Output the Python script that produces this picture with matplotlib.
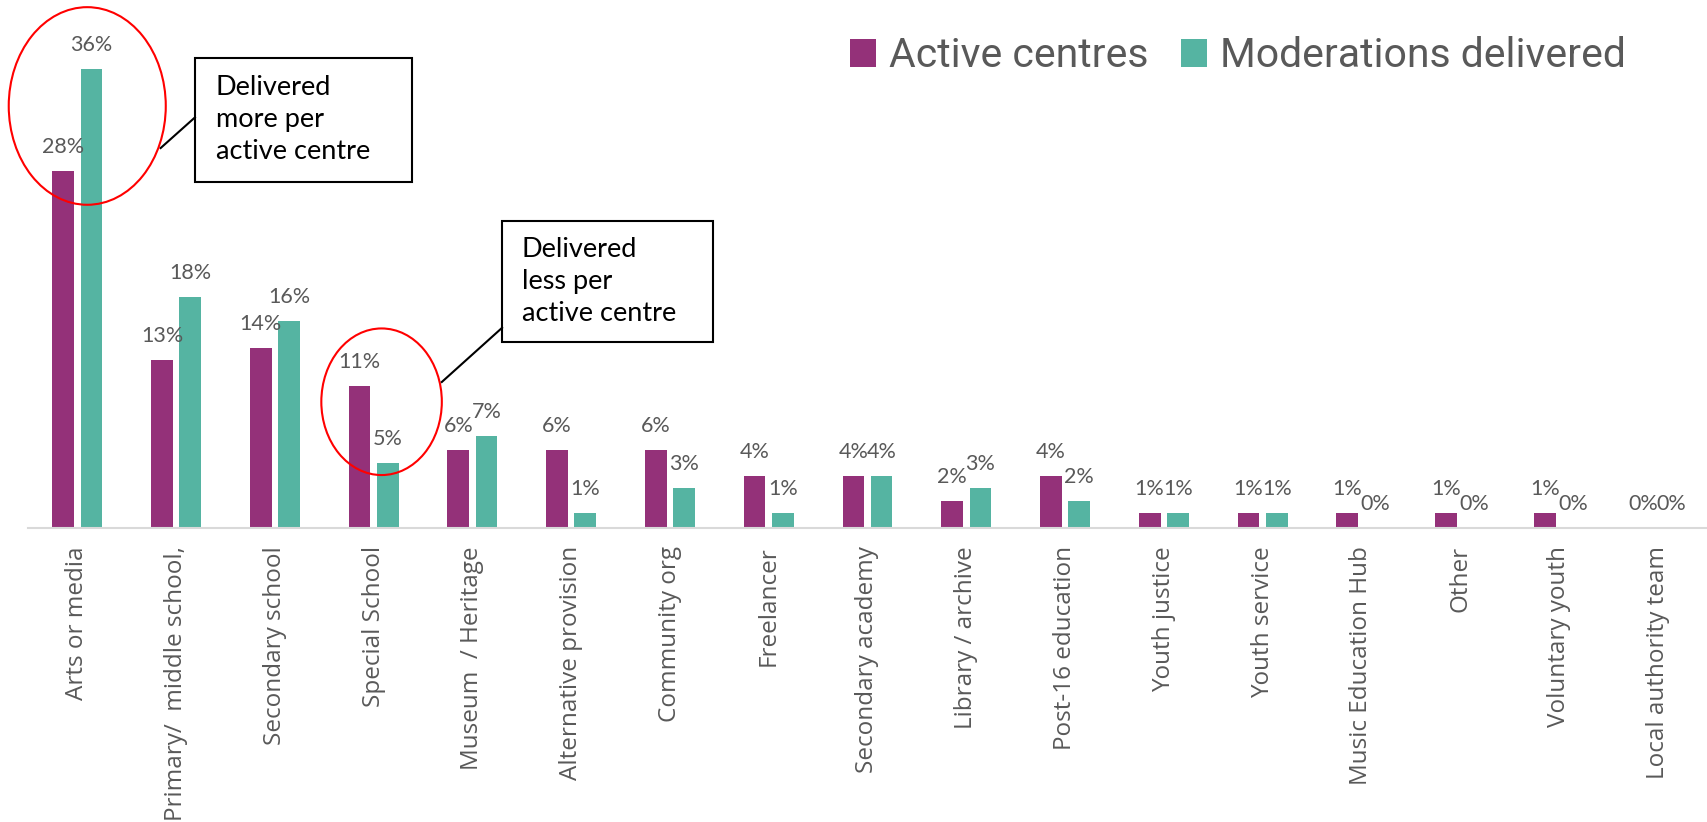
import numpy as np
import matplotlib
matplotlib.use("Agg")
import matplotlib.pyplot as plt
from matplotlib.patches import Ellipse, Rectangle

# Data
categories = [
    "Arts or media", "Primary/  middle school,", "Secondary school", "Special School",
    "Museum  / Heritage", "Alternative provision", "Community org", "Freelancer",
    "Secondary academy", "Library / archive", "Post-16 education", "Youth justice",
    "Youth service", "Music Education Hub", "Other", "Voluntary youth",
    "Local authority team",
]
active_centres = [28.0, 13.2, 14.1, 11.1, 6.1, 6.1, 6.1, 4.1, 4.1, 2.1, 4.1, 1.2, 1.2, 1.2, 1.2, 1.2, 0.0]
moderations = [36.0, 18.1, 16.2, 5.1, 7.2, 1.2, 3.1, 1.2, 4.1, 3.1, 2.1, 1.2, 1.2, 0.0, 0.0, 0.0, 0.0]

purple = "#943179"
teal = "#55b4a2"
grey = "#595959"

fig = plt.figure(figsize=(17.07, 8.22), dpi=100)
ax = fig.add_axes([0.0164, 0.3577, 0.9836, 0.6204])

x = np.arange(len(categories))
w = 0.22
b1 = ax.bar(x - 0.143, active_centres, w, color=purple, label="Active centres")
b2 = ax.bar(x + 0.143, moderations, w, color=teal, label="Moderations delivered")

# value labels
for bars in (b1, b2):
    for rect in bars:
        h = rect.get_height()
        ax.annotate(f"{h:.0f}%", (rect.get_x() + rect.get_width() / 2, h),
                    xytext=(0, 13), textcoords="offset points",
                    ha="center", va="baseline", fontsize=15.5, color=grey,
                    family=["Lato", "DejaVu Sans"])

ax.set_xlim(-0.5, 16.5)
ax.set_ylim(0, 40)
ax.set_yticks([])
ax.set_xticks(x)
ax.set_xticklabels(categories, rotation=90, fontsize=17.5, color=grey,
                   family=["Open Sans", "DejaVu Sans"])
ax.tick_params(axis="x", length=0, pad=13)
for s in ("left", "right", "top"):
    ax.spines[s].set_visible(False)
ax.spines["bottom"].set_color("#d9d9d9")
ax.spines["bottom"].set_linewidth(1.5)

# legend
ax.legend(loc="upper right", bbox_to_anchor=(1642 / 1707, 1 - 20 / 822),
          bbox_transform=fig.transFigure, frameon=False, ncol=2,
          prop={"family": ["Roboto", "DejaVu Sans"], "size": 29.5},
          labelcolor=grey, handlelength=0.65, handleheight=0.65,
          handletextpad=0.3, columnspacing=0.8, borderaxespad=0)

# callouts
callout_font = ["Lato", "DejaVu Sans"]
ax.add_patch(Ellipse((0.1, 33.1), 1.59, 15.5, fill=False, ec="red", lw=1.5, clip_on=False))
ax.add_patch(Rectangle((1.19, 27.1), 2.2, 9.8, fill=False, ec="black", lw=1.5, clip_on=False))
ax.text(1.40, 32.0, "Delivered\nmore per\nactive centre", va="center", ha="left",
        fontsize=19.5, linespacing=1.35, family=callout_font)
ax.plot([1.19, 0.843], [32.2, 29.8], color="black", lw=1.5, clip_on=False)

ax.add_patch(Ellipse((3.08, 9.9), 1.22, 11.5, fill=False, ec="red", lw=1.5, clip_on=False))
ax.add_patch(Rectangle((4.30, 14.6), 2.14, 9.5, fill=False, ec="black", lw=1.5, clip_on=False))
ax.text(4.50, 19.3, "Delivered\nless per\nactive centre", va="center", ha="left",
        fontsize=19.5, linespacing=1.35, family=callout_font)
ax.plot([4.30, 3.69], [15.7, 11.45], color="black", lw=1.5, clip_on=False)

fig.savefig("out.png", dpi=100)
